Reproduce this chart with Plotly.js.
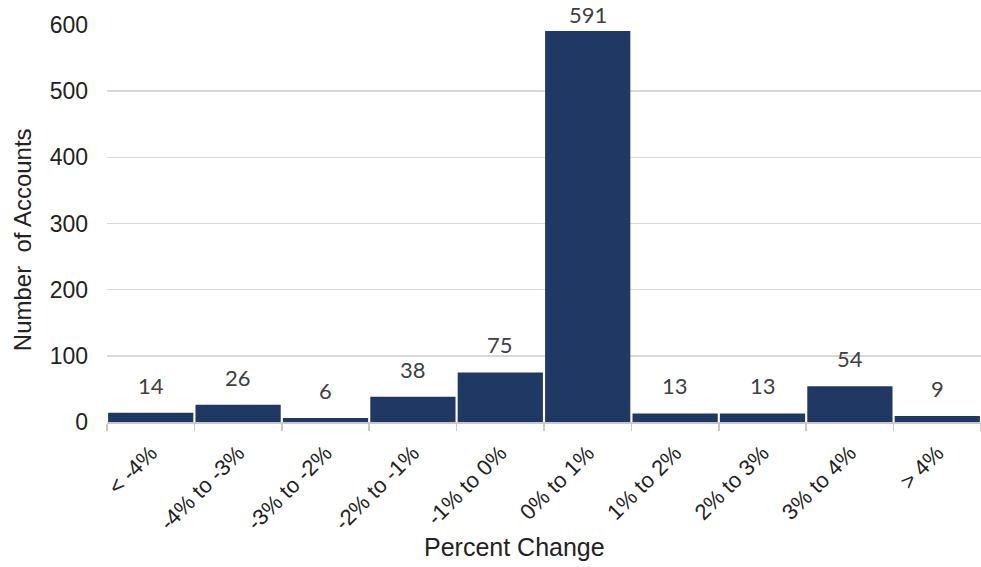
<!DOCTYPE html>
<html>
<head>
<meta charset="utf-8">
<script src="https://cdn.plot.ly/plotly-3.0.1.min.js"></script>
<style>html,body{margin:0;padding:0;background:#fff;}#chart{width:981px;height:567px;}</style>
</head>
<body>
<div id="chart"></div>
<script>
var categories = ["< -4%", "-4% to -3%", "-3% to -2%", "-2% to -1%", "-1% to 0%", "0% to 1%", "1% to 2%", "2% to 3%", "3% to 4%", "> 4%"];
var accounts = [14, 26, 6, 38, 75, 591, 13, 13, 54, 9];
var yTicks = [0, 100, 200, 300, 400, 500, 600];

var trace = {
  type: 'bar',
  x: categories,
  y: accounts,
  marker: {color: '#1f3864', line: {color: '#ffffff', width: 0}},
  hoverinfo: 'x+y'
};

var labelAnns = categories.map(function(c, i) {
  return {
    x: c, y: accounts[i], xref: 'x', yref: 'y',
    text: String(accounts[i]), showarrow: false,
    yanchor: 'bottom', yshift: accounts[i] > 500 ? 1 : 12,
    font: {family: 'Lato, "Open Sans", sans-serif', size: 22, color: '#404040'}
  };
});

labelAnns.push({
  xref: 'paper', yref: 'paper', x: 0.466, y: 0, yshift: -125,
  yanchor: 'middle', xanchor: 'center', showarrow: false,
  text: 'Percent Change',
  font: {family: '"Liberation Sans", Arial, sans-serif', size: 25, color: '#222222'}
});

labelAnns.push({
  xref: 'paper', yref: 'paper', x: 0, xshift: -85, y: 0.458,
  yanchor: 'middle', xanchor: 'center', showarrow: false,
  textangle: -90,
  text: 'Number  of Accounts',
  font: {family: '"Liberation Sans", Arial, sans-serif', size: 24, color: '#222222'}
});

var layout = {
  width: 981, height: 567,
  margin: {l: 107, r: 0, t: 25, b: 145, pad: 0},
  paper_bgcolor: '#ffffff', plot_bgcolor: '#ffffff',
  bargap: 0.025,
  showlegend: false,
  font: {family: '"Liberation Sans", Arial, sans-serif', size: 23, color: '#222222'},
  xaxis: {
    type: 'category',
    tickangle: -45,
    ticks: 'outside', tickson: 'boundaries', ticklen: 7, tickwidth: 1.5, tickcolor: '#c8c8c8',
    showline: true, linecolor: '#c8c8c8', linewidth: 1.5,
    showgrid: false, zeroline: false,
    ticklabelstandoff: 8,
    tickfont: {size: 22, color: '#222222'}
  },
  yaxis: {
    range: [0, 600],
    tickvals: yTicks,
    ticktext: yTicks.map(String),
    showgrid: true, gridcolor: '#d9d9d9', gridwidth: 1.5,
    zeroline: false, showline: false, ticks: '',
    ticklabelstandoff: 18,
    tickfont: {size: 23, color: '#222222'}
  },
  annotations: labelAnns
};

Plotly.newPlot('chart', [trace], layout, {displayModeBar: false, staticPlot: true});
</script>
</body>
</html>
